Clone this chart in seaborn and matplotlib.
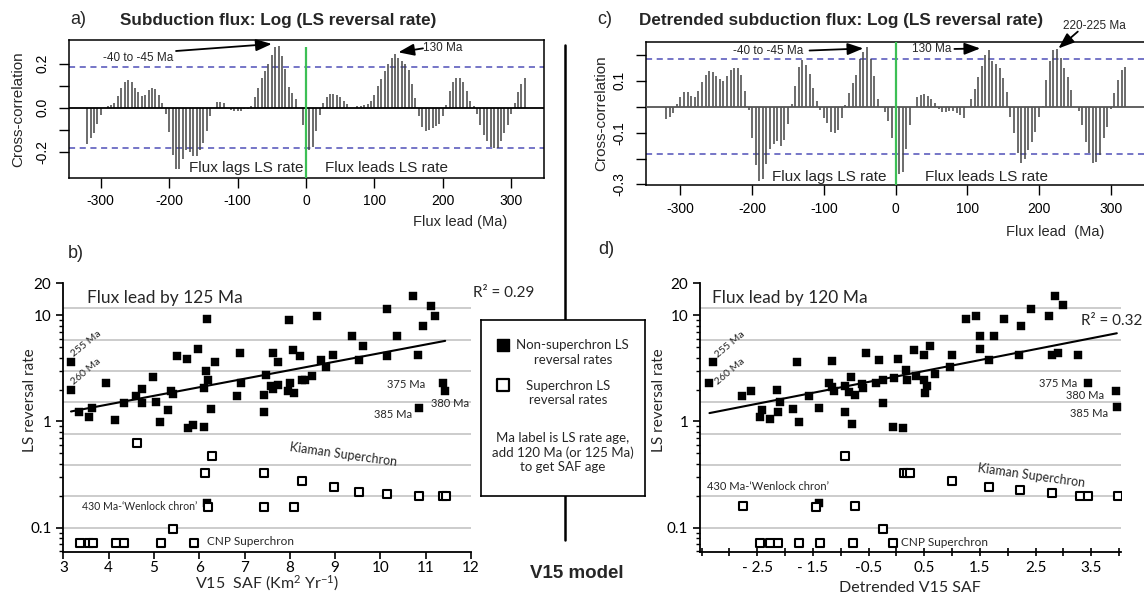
import numpy as np
import matplotlib
matplotlib.use("Agg")
import matplotlib.pyplot as plt
import seaborn as sns
from matplotlib.lines import Line2D
import matplotlib.transforms as mtransforms
from matplotlib.ticker import FixedLocator, FixedFormatter, LogLocator, NullFormatter

# ------------------------------------------------------------------ data
lags = np.arange(-320, 325, 5)

ccf_a = [-0.165, -0.138, -0.117, -0.075, -0.032, 0.0,
         0.008, 0.012, 0.022, 0.053, 0.092, 0.116, 0.124, 0.116, 0.091, 0.070, 0.055, 0.058, 0.079, 0.088, 0.083, 0.060, 0.021,
         -0.030, -0.110, -0.216, -0.280, -0.280, -0.235, -0.194, -0.200, -0.218, -0.220, -0.194, -0.162, -0.104, -0.036,
         0.0, 0.025, 0.026, 0.022,
         0.0, -0.012, -0.016, -0.015, -0.013, -0.007, -0.004,
         0.010, 0.048, 0.091, 0.135, 0.167, 0.200, 0.242, 0.278, 0.280, 0.235, 0.178, 0.094, 0.065, 0.042,
         0.0,
         -0.078, -0.150, -0.190, -0.180, -0.105, -0.033,
         0.022, 0.051, 0.061, 0.061, 0.058, 0.048, 0.032, 0.017,
         0.0, 0.0,
         0.007, 0.010, 0.014, 0.019, 0.029, 0.058, 0.097, 0.129, 0.167, 0.200, 0.227, 0.245, 0.225, 0.213, 0.200, 0.170, 0.109, 0.043,
         -0.036, -0.087, -0.106, -0.101, -0.090, -0.084, -0.072, -0.036,
         0.014, 0.077, 0.115, 0.135, 0.135, 0.118, 0.075, 0.030, 0.010,
         -0.029, -0.080, -0.123, -0.152, -0.178, -0.184, -0.181, -0.152, -0.116, -0.077, -0.029,
         0.022, 0.070, 0.109, 0.135]

ccf_c = [-0.046, -0.038, -0.026, 0.009, 0.036, 0.055, 0.055, 0.040, 0.038, 0.062,
         0.097, 0.124, 0.139, 0.135, 0.119, 0.107, 0.100, 0.120, 0.140, 0.150,
         0.148, 0.122, 0.062, -0.013, -0.120, -0.226, -0.285, -0.277, -0.220, -0.165,
         -0.145, -0.133, -0.152, -0.130, -0.067, 0.011, 0.080, 0.154, 0.182, 0.163,
         0.126, 0.071, 0.023, -0.013, -0.045, -0.064, -0.097, -0.100, -0.090, -0.045,
         0.006, 0.054, 0.093, 0.122, 0.183, 0.212, 0.232, 0.183, 0.118, 0.030,
         0.0, -0.019, -0.054, -0.120, -0.200, -0.260, -0.250, -0.165, -0.070, 0.0,
         0.039, 0.045, 0.048, 0.042, 0.028, 0.013, -0.010, -0.021, -0.021, -0.017,
         -0.017, -0.023, -0.032, -0.045, 0.0, 0.030, 0.067, 0.113, 0.158, 0.200,
         0.219, 0.176, 0.165, 0.148, 0.109, 0.058, -0.039, -0.103, -0.180, -0.216,
         -0.203, -0.167, -0.135, -0.097, -0.039, 0.004, 0.103, 0.177, 0.219, 0.222,
         0.190, 0.150, 0.113, 0.064, 0.0, -0.017, -0.070, -0.135, -0.180, -0.216,
         -0.213, -0.187, -0.122, -0.077, -0.009, 0.052, 0.103, 0.142, 0.155]

sig_a = 0.185
sig_c = 0.183

b_fill_x = [3.17, 3.17, 3.35, 3.57, 3.64, 3.95, 4.15, 4.35, 4.61, 4.73, 4.73, 4.99, 5.05, 5.14, 5.32, 5.38, 5.43,
            5.52, 5.72, 5.76, 5.87, 5.97, 6.11, 6.11, 6.14, 6.18, 6.20, 6.26, 6.34, 6.84, 6.91, 6.92, 7.42, 7.44,
            7.47, 7.58, 7.62, 7.64, 7.73, 7.75, 7.95, 7.99, 8.00, 8.08, 8.10, 8.22, 8.26, 8.34, 8.48, 8.61, 8.68,
            8.81, 8.96, 9.38, 9.53, 9.62, 10.14, 10.15, 10.37, 10.73, 10.84, 10.85, 10.95, 11.12, 11.21, 11.39,
            11.43, 6.17]
b_fill_y = [3.63, 1.98, 1.23, 1.10, 1.33, 2.30, 1.03, 1.49, 1.72, 2.02, 1.49, 2.60, 1.52, 0.98, 1.28, 1.93, 1.80,
            4.10, 3.87, 0.865, 0.923, 4.81, 0.88, 2.08, 2.96, 9.23, 2.45, 1.30, 3.60, 1.75, 4.41, 2.30, 1.22, 1.79,
            2.76, 2.14, 2.02, 4.41, 3.63, 2.22, 1.93, 9.10, 2.30, 4.75, 1.85, 4.16, 2.44, 2.47, 2.69, 9.78, 3.82,
            3.26, 4.22, 6.38, 3.82, 5.17, 11.5, 4.16, 6.38, 15.3, 4.22, 1.34, 8.0, 12.2, 9.86, 2.32,
            1.95, 0.17]
b_open_x = [3.37, 3.57, 3.65, 4.16, 4.35, 5.16, 5.89, 5.43, 4.62, 6.28, 6.13, 7.43, 6.19, 7.44, 8.09, 8.26,
            8.98, 9.53, 10.15, 10.86, 11.38, 11.45]
b_open_y = [0.071, 0.071, 0.071, 0.071, 0.071, 0.071, 0.071, 0.0964, 0.625, 0.468, 0.33, 0.33, 0.158, 0.158,
            0.158, 0.277, 0.244, 0.219, 0.208, 0.199, 0.199, 0.199]

d_fill_x = [-3.36, -3.30, -2.77, -2.61, -2.46, -2.41, -2.28, -2.14, -2.12, -2.09, -1.85, -1.79, -1.75, -1.57,
            -1.39, -1.21, -1.16, -1.15, -1.12, -0.93, -0.92, -0.86, -0.81, -0.79, -0.74, -0.61, -0.60, -0.55,
            -0.37, -0.31, -0.24, -0.24, -0.06, -0.04, 0.03, 0.12, 0.18, 0.19, 0.32, 0.36, 0.49, 0.50, 0.52, 0.55,
            0.60, 0.70, 0.96, 1.00, 1.25, 1.43, 1.50, 1.50, 1.67, 1.75, 1.93, 2.20, 2.24, 2.41, 2.75, 2.79, 2.85,
            2.91, 2.99, 3.26, 3.44, 3.95, 3.96, -1.40]
d_fill_y = [2.30, 3.63, 1.72, 1.92, 1.10, 1.27, 1.05, 1.99, 1.22, 1.52, 1.31, 3.63, 0.99, 1.75,
            1.34, 2.30, 3.73, 2.11, 1.92, 2.14, 1.24, 1.89, 2.62, 0.94, 1.77, 2.27, 2.08, 4.41,
            2.30, 3.82, 2.47, 1.49, 0.885, 2.58, 3.90, 0.865, 3.07, 2.47, 4.75, 2.70, 2.47, 4.22, 1.85, 2.14,
            5.17, 2.82, 3.28, 4.22, 9.23, 9.78, 6.33, 4.81, 3.76, 6.33, 9.23, 4.22, 7.93, 11.5, 9.86, 4.22, 15.2,
            4.38, 12.5, 4.22, 2.30, 1.93, 1.37, 0.17]
d_open_x = [-2.76, -1.45, -0.75, -0.93, -2.45, -2.27, -2.12, -1.75, -1.37, -0.78, -0.25, -0.07, 0.13, 0.19,
            0.24, 1.00, 1.67, 2.22, 2.79, 3.29, 3.44, 3.98]
d_open_y = [0.16, 0.158, 0.16, 0.478, 0.072, 0.072, 0.072, 0.072, 0.072, 0.072, 0.097, 0.072, 0.33, 0.33,
            0.33, 0.277, 0.244, 0.224, 0.21, 0.199, 0.199, 0.199]

# log10(rate) = intercept + slope * x
trend_b = (-0.161, 0.0805)
trend_d = (0.424, 0.1027)
r2_b = "0.29"
r2_d = "0.32"
grid_levels = [0.1, 0.2, 0.39, 0.77, 1.52, 2.98, 5.9, 11.6]

# ------------------------------------------------------------------ style
sns.set_theme(style="ticks")
plt.rcParams['font.family'] = ['Liberation Sans', 'DejaVu Sans']
plt.rcParams['mathtext.fontset'] = 'custom'
plt.rcParams['mathtext.rm'] = 'Lato'
plt.rcParams['mathtext.it'] = 'Lato:italic'
CAL = ['Lato', 'DejaVu Sans']

W, H = 1144, 600
fig = plt.figure(figsize=(W / 100, H / 100), dpi=100)
fig.patch.set_facecolor('white')


def box(l, t, r, b):
    return [l / W, 1 - b / H, (r - l) / W, (b - t) / H]


BAR = '#444444'
BLUE = '#4f4fb8'
GREEN = '#3cbf55'


def ccf_panel(ax, vals, sig, ylim, xlim, yticks, ylabels, green_top, zero_col):
    ax.vlines(lags, 0, vals, colors=BAR, lw=1.1, zorder=2)
    ax.axhline(0, color=zero_col, lw=1.3, zorder=3)
    for s in (sig, -sig):
        ax.axhline(s, color=BLUE, lw=1.1, ls=(0, (4, 3)), zorder=1)
    ax.vlines([0], ylim[0], green_top, colors=GREEN, lw=1.6, zorder=4)
    ax.set_xlim(*xlim)
    ax.set_ylim(*ylim)
    ax.set_xticks([-300, -200, -100, 0, 100, 200, 300])
    ax.set_xticklabels(['-300', '-200', '-100', '0', '100', '200', '300'])
    ax.set_yticks(yticks)
    ax.set_yticklabels(ylabels, rotation=90, va='center')
    ax.tick_params(direction='out', length=7, width=1, labelsize=10, colors='black')
    ax.tick_params(axis='x', pad=5)
    ax.tick_params(axis='y', pad=7)
    for sp in ax.spines.values():
        sp.set_linewidth(1.1)
        sp.set_color('black')
    ax.set_facecolor('white')


# ------------------------------------------------------------------ panel a
ax_a = fig.add_axes(box(69.3, 40, 544.4, 177.7))
ccf_panel(ax_a, ccf_a, sig_a, (-0.318, 0.308), (-346, 348.5),
          [-0.2, -0.1, 0.0, 0.1, 0.2], ['-0.2', '', '0.0', '', '0.2'], 0.276, 'black')
ax_a.set_ylabel('Cross-correlation', fontsize=11)
ax_a.yaxis.set_label_coords(-0.093, 0.5)
tr_a = mtransforms.blended_transform_factory(ax_a.transData, ax_a.transAxes)
ax_a.text(294, -0.322, 'Flux lead (Ma)', transform=tr_a, ha='right', va='center', fontsize=10.5)
ax_a.text(-4, -0.274, 'Flux lags LS rate', ha='right', va='center', fontsize=11)
ax_a.text(28, -0.274, 'Flux leads LS rate', ha='left', va='center', fontsize=11)
arw = dict(arrowstyle='-|>,head_length=0.8,head_width=0.3', color='black', lw=1.3,
           shrinkA=0, shrinkB=0, mutation_scale=12)
ax_a.text(-245, 0.228, '-40 to -45 Ma', ha='center', va='center', fontsize=8.5)
ax_a.annotate('', xy=(-50, 0.29), xytext=(-190, 0.258), arrowprops=arw, annotation_clip=False)
ax_a.text(200, 0.27, '130 Ma', ha='center', va='center', fontsize=8.5)
ax_a.annotate('', xy=(135, 0.252), xytext=(171, 0.27), arrowprops=arw, annotation_clip=False)

fig.text(70 / W, 1 - 20 / H, 'a)', fontsize=13, va='center')
fig.text(120 / W, 1 - 20 / H, 'Subduction flux: Log (LS reversal rate)', fontsize=12.3,
         fontweight='bold', va='center')

# ------------------------------------------------------------------ panel c
ax_c = fig.add_axes(box(646, 41.7, 1145.5, 185))
ccf_panel(ax_c, ccf_c, sig_c, (-0.302, 0.251), (-348, 348.4),
          [-0.3, -0.2, -0.1, 0.0, 0.1, 0.2], ['-0.3', '', '-0.1', '', '0.1', ''], 0.251, '#555555')
ax_c.set_ylabel('Cross-correlation', fontsize=11)
ax_c.yaxis.set_label_coords(-0.075, 0.5)
tr_c = mtransforms.blended_transform_factory(ax_c.transData, ax_c.transAxes)
ax_c.text(291, -0.328, 'Flux lead  (Ma)', transform=tr_c, ha='right', va='center', fontsize=10.5)
ax_c.text(-12, -0.27, 'Flux lags LS rate', ha='right', va='center', fontsize=11)
ax_c.text(41, -0.27, 'Flux leads LS rate', ha='left', va='center', fontsize=11)
ax_c.text(-178, 0.215, '-40 to -45 Ma', ha='center', va='center', fontsize=8.5)
ax_c.annotate('', xy=(-45, 0.225), xytext=(-120, 0.217), arrowprops=arw, annotation_clip=False)
ax_c.text(51, 0.223, '130 Ma', ha='center', va='center', fontsize=8.5)
ax_c.annotate('', xy=(118, 0.225), xytext=(82, 0.223), arrowprops=arw, annotation_clip=False)
ax_c.text(277, 0.31, '220-225 Ma', ha='center', va='center', fontsize=8.5, clip_on=False)
ax_c.annotate('', xy=(227, 0.225), xytext=(254, 0.29), arrowprops=arw, annotation_clip=False)

fig.text(597 / W, 1 - 20 / H, 'c)', fontsize=13, va='center')
fig.text(639 / W, 1 - 20 / H, 'Detrended subduction flux: Log (LS reversal rate)', fontsize=12.3,
         fontweight='bold', va='center')


# ------------------------------------------------------------------ scatter panels
def scatter_panel(ax, fx, fy, ox, oy, trend, xlim):
    for g in grid_levels:
        ax.axhline(g, color='#c4c4c4', lw=1.2, zorder=0)
    sns.scatterplot(x=fx, y=fy, marker='s', s=40, color='black', edgecolor='black', linewidth=0.3,
                    ax=ax, zorder=3, legend=False)
    sns.scatterplot(x=ox, y=oy, marker='s', s=32, color='white', edgecolor='black', linewidth=1.5,
                    ax=ax, zorder=4, legend=False)
    xs = np.array([min(fx[:-1]), max(fx[:-1])])
    ys = 10 ** (trend[0] + trend[1] * xs)
    sns.lineplot(x=xs, y=ys, color='black', lw=1.5, ax=ax, zorder=5)
    ax.set_yscale('log')
    ax.set_ylim(0.0594, 20)
    ax.set_xlim(*xlim)
    ax.yaxis.set_major_locator(FixedLocator([0.1, 1, 10, 20]))
    ax.yaxis.set_major_formatter(FixedFormatter(['0.1', '1', '10', '20']))
    ax.yaxis.set_minor_locator(LogLocator(base=10, subs=np.arange(2, 10) * 1.0))
    ax.yaxis.set_minor_formatter(NullFormatter())
    for s in ('top', 'right'):
        ax.spines[s].set_visible(False)
    for s in ('left', 'bottom'):
        ax.spines[s].set_linewidth(1.3)
        ax.spines[s].set_color('black')
    ax.tick_params(which='major', direction='out', length=5, width=1.2, labelsize=11, colors='black')
    ax.tick_params(axis='x', which='major', pad=1.5)
    ax.tick_params(which='minor', direction='out', length=3, width=1.0, colors='black')
    ax.set_xlabel('')
    ax.set_ylabel('LS reversal rate', fontsize=11, family=CAL)
    ax.set_facecolor('white')


# panel b
ax_b = fig.add_axes(box(63.3, 283.3, 471, 551.7))
scatter_panel(ax_b, b_fill_x, b_fill_y, b_open_x, b_open_y, trend_b, (3, 12))
ax_b.set_xticks(range(3, 13))
ax_b.set_xticklabels([str(v) for v in range(3, 13)], family=CAL)
for lab in ax_b.get_yticklabels():
    lab.set_family(CAL)
ax_b.yaxis.set_label_coords(-0.064, 0.565)
ax_b.set_xlabel('V15  SAF (Km$^{2}$ Yr$^{-1}$)', fontsize=11.5, family=CAL, labelpad=-1)
ax_b.text(3.53, 14.6, 'Flux lead by 125 Ma', fontsize=12.5, va='center', family=CAL)
ax_b.text(12.04, 16.1, 'R² = ' + r2_b, fontsize=11, va='center', family=CAL, clip_on=False)
ax_b.text(3.26, 3.95, '255 Ma', rotation=39, rotation_mode='anchor', ha='left', va='bottom',
          fontsize=7.5, family=CAL, color='#222222')
ax_b.text(3.26, 2.13, '260 Ma', rotation=40, rotation_mode='anchor', ha='left', va='bottom',
          fontsize=7.5, family=CAL, color='#222222')
ax_b.text(10.56, 2.21, '375 Ma', ha='center', va='center', fontsize=8, family=CAL)
ax_b.text(10.27, 1.17, '385 Ma', ha='center', va='center', fontsize=8, family=CAL)
ax_b.text(11.53, 1.47, '380 Ma', ha='center', va='center', fontsize=8, family=CAL)
ax_b.text(9.18, 0.486, 'Kiaman Superchron', rotation=-8, rotation_mode='anchor', ha='center',
          va='center', fontsize=9, family=CAL)
ax_b.text(3.42, 0.158, '430 Ma-‘Wenlock chron’', ha='left', va='center', fontsize=7.6, family=CAL)
ax_b.text(6.18, 0.0743, 'CNP Superchron', ha='left', va='center', fontsize=8.5, family=CAL)

# panel d
ax_d = fig.add_axes(box(700, 283.3, 1120.7, 551.7))
scatter_panel(ax_d, d_fill_x, d_fill_y, d_open_x, d_open_y, trend_d, (-3.53, 4.03))
dticks = [-3.5, -3.0, -2.5, -2.0, -1.5, -1.0, -0.5, 0.0, 0.5, 1.0, 1.5, 2.0, 2.5, 3.0, 3.5, 4.0]
dlabels = ['', '', '- 2.5', '', '- 1.5', '', '-0.5', '', '0.5', '', '1.5', '', '2.5', '', '3.5', '']
ax_d.set_xticks(dticks)
ax_d.set_xticklabels(dlabels, family=CAL)
ax_d.tick_params(axis='x', which='major', direction='inout', length=6, pad=4)
for lab in ax_d.get_yticklabels():
    lab.set_family(CAL)
ax_d.yaxis.set_label_coords(-0.08, 0.565)
ax_d.set_xlabel('Detrended V15 SAF', fontsize=11.5, family=CAL, labelpad=4)
ax_d.text(-3.32, 14.6, 'Flux lead by 120 Ma', fontsize=12.5, va='center', family=CAL)
ax_d.text(3.31, 8.9, 'R² = ' + r2_d, fontsize=11, va='center', family=CAL, clip_on=False)
ax_d.text(-3.18, 3.8, '255 Ma', rotation=40, rotation_mode='anchor', ha='left', va='bottom',
          fontsize=7.5, family=CAL, color='#222222')
ax_d.text(-3.18, 2.13, '260 Ma', rotation=40, rotation_mode='anchor', ha='left', va='bottom',
          fontsize=7.5, family=CAL, color='#222222')
ax_d.text(2.91, 2.26, '375 Ma', ha='center', va='center', fontsize=8, family=CAL)
ax_d.text(3.39, 1.76, '380 Ma', ha='center', va='center', fontsize=8, family=CAL)
ax_d.text(3.47, 1.20, '385 Ma', ha='center', va='center', fontsize=8, family=CAL)
ax_d.text(2.43, 0.31, 'Kiaman Superchron', rotation=-8, rotation_mode='anchor', ha='center',
          va='center', fontsize=9, family=CAL)
ax_d.text(-3.41, 0.245, '430 Ma-‘Wenlock chron’', ha='left', va='center', fontsize=8, family=CAL)
ax_d.text(0.09, 0.0718, 'CNP Superchron', ha='left', va='center', fontsize=8.5, family=CAL)

fig.text(68 / W, 1 - 254 / H, 'b)', fontsize=13, va='center')
fig.text(598 / W, 1 - 249 / H, 'd)', fontsize=13, va='center')

# ------------------------------------------------------------------ separator and legend box
fig.add_artist(Line2D([565 / W, 565 / W], [1 - 45 / H, 1 - 540 / H], color='black', lw=1.8, zorder=1))

ax_leg = fig.add_axes(box(481, 320, 645, 496), zorder=10)
ax_leg.set_xlim(0, 1)
ax_leg.set_ylim(0, 1)
ax_leg.set_xticks([])
ax_leg.set_yticks([])
ax_leg.set_facecolor('white')
for sp in ax_leg.spines.values():
    sp.set_linewidth(1.2)
    sp.set_color('black')
ax_leg.scatter([0.134], [0.858], marker='s', s=85, color='black')
ax_leg.scatter([0.134], [0.631], marker='s', s=75, facecolor='white', edgecolor='black', linewidth=1.6)
ax_leg.text(0.56, 0.815, 'Non-superchron LS\nreversal rates', ha='center', va='center', fontsize=9.5,
            family=CAL, linespacing=1.25)
ax_leg.text(0.53, 0.585, 'Superchron LS\nreversal rates', ha='center', va='center', fontsize=9.5,
            family=CAL, linespacing=1.25)
ax_leg.text(0.5, 0.246, 'Ma label is LS rate age,\nadd 120 Ma (or 125 Ma)\nto get SAF age', ha='center',
            va='center', fontsize=9.5, family=CAL, linespacing=1.2)

fig.text(577 / W, 1 - 573 / H, 'V15 model', ha='center', va='center', fontsize=13.5, fontweight='bold')

fig.savefig('out.png', dpi=100)
